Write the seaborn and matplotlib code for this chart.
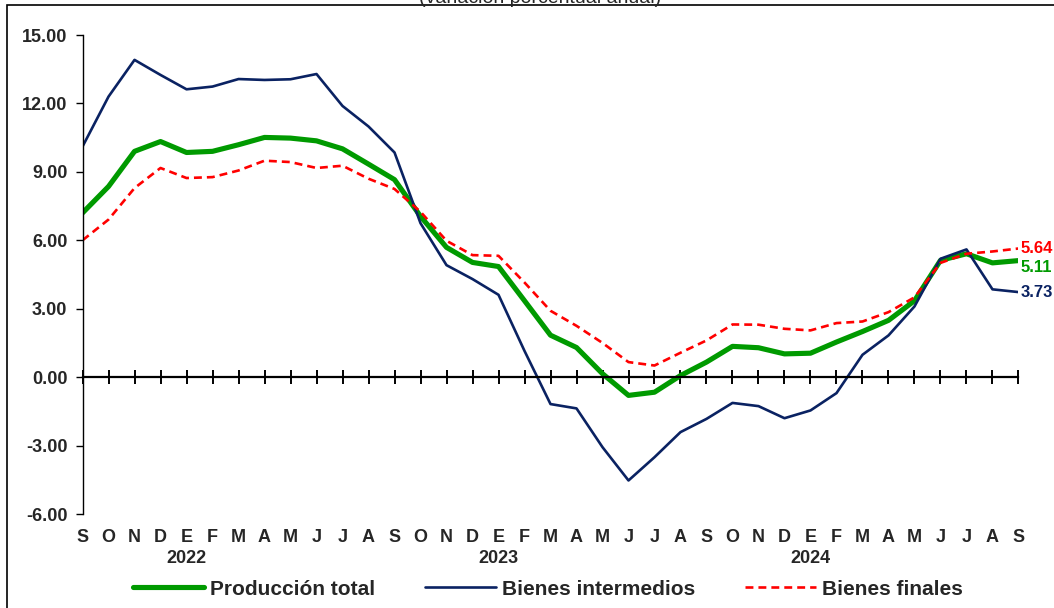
import matplotlib.pyplot as plt
import matplotlib.patches as mpatches
import pandas as pd
import seaborn as sns

# month initials (S-2021 .. S-2024) and year labels under January
months = ["S", "O", "N", "D", "E", "F", "M", "A", "M", "J", "J", "A"] * 3 + ["S"]
year_pos = [4, 16, 28]
year_labels = ["2022", "2023", "2024"]

# annual % change
total = [7.20, 8.36, 9.90, 10.33, 9.85, 9.90, 10.19, 10.51, 10.48, 10.36, 10.01, 9.34,
         8.66, 7.05, 5.69, 5.03, 4.85, 3.35, 1.84, 1.30, 0.15, -0.80, -0.66, 0.07,
         0.66, 1.35, 1.29, 1.02, 1.05, 1.54, 2.00, 2.49, 3.35, 5.12, 5.41, 5.01, 5.11]
intermedios = [10.11, 12.30, 13.91, 13.25, 12.62, 12.74, 13.07, 13.03, 13.06, 13.29, 11.89, 10.99,
               9.85, 6.75, 4.91, 4.30, 3.61, 1.15, -1.18, -1.37, -3.07, -4.53, -3.51, -2.41,
               -1.83, -1.13, -1.27, -1.80, -1.46, -0.70, 0.98, 1.83, 3.10, 5.19, 5.60, 3.85, 3.73]
finales = [6.00, 6.91, 8.29, 9.17, 8.73, 8.77, 9.06, 9.49, 9.43, 9.17, 9.27, 8.70,
           8.25, 7.25, 5.98, 5.35, 5.32, 4.15, 2.91, 2.25, 1.50, 0.66, 0.51, 1.07,
           1.61, 2.31, 2.30, 2.12, 2.05, 2.37, 2.44, 2.85, 3.50, 5.01, 5.41, 5.51, 5.64]

df = pd.DataFrame({"idx": range(len(months)), "total": total,
                   "intermedios": intermedios, "finales": finales})

GREEN = "#009A00"
NAVY = "#0A2262"
RED = "#FF0000"

sns.set_theme(style="white")
plt.rcParams["font.family"] = ["Liberation Sans", "DejaVu Sans"]

fig = plt.figure(figsize=(10.54, 6.08), dpi=100)
ax = fig.add_axes([0.0783, 0.1546, 0.888, 0.7878])

sns.lineplot(data=df, x="idx", y="total", ax=ax, color=GREEN, linewidth=3.7,
             label="Producción total")
sns.lineplot(data=df, x="idx", y="intermedios", ax=ax, color=NAVY, linewidth=1.9,
             label="Bienes intermedios")
sns.lineplot(data=df, x="idx", y="finales", ax=ax, color=RED, linewidth=1.9,
             linestyle=(0, (3, 1.9)), label="Bienes finales")

ax.set_xlim(0, 36)
ax.set_ylim(-6, 15)
ax.set_xlabel("")
ax.set_ylabel("")

# axes look
for s in ["top", "right"]:
    ax.spines[s].set_visible(False)
ax.spines["left"].set_color("black")
ax.spines["left"].set_linewidth(1.0)
ax.spines["bottom"].set_position(("data", 0))
ax.spines["bottom"].set_color("black")
ax.spines["bottom"].set_linewidth(1.6)

ax.set_xticks(df["idx"])
ax.tick_params(axis="x", direction="inout", length=10, width=1.4, color="black",
               labelbottom=False, bottom=True)
ax.set_yticks(range(-6, 16, 3))
ax.set_yticklabels([f"{v:.2f}" for v in range(-6, 16, 3)], fontweight="bold", fontsize=13)
ax.tick_params(axis="y", direction="out", length=5, width=1, color="black", pad=6, left=True)

xt = ax.get_xaxis_transform()
for i, m in enumerate(months):
    ax.text(i, -0.050, m, transform=xt, ha="center", va="center",
            fontweight="bold", fontsize=13)
for p, y in zip(year_pos, year_labels):
    ax.text(p, -0.092, y, transform=xt, ha="center", va="center",
            fontweight="bold", fontsize=13)

# end-of-series labels (kept small enough to stay inside the image)
last = len(months) - 1
for vals, col, dy in [(finales, RED, 0), (total, GREEN, -5), (intermedios, NAVY, 0)]:
    ax.annotate(f"{vals[-1]:.2f}", (last, vals[-1]), xytext=(1.5, dy),
                textcoords="offset points", color=col, fontweight="bold",
                fontsize=12, va="center", ha="left", annotation_clip=False)

handles, labels = ax.get_legend_handles_labels()
ax.get_legend().remove()
fig.legend(handles, labels, loc="center", bbox_to_anchor=(0.52, 0.031), ncol=3,
           frameon=False, prop={"weight": "bold", "size": 15}, handlelength=3.4,
           handletextpad=0.3, columnspacing=2.4)

# chart border (partly outside the image) and cut title
fig.add_artist(mpatches.Rectangle((7 / 1054, -0.2), 1.2, 0.2 + 1 - 5 / 608,
                                  transform=fig.transFigure, fill=False,
                                  edgecolor="black", linewidth=1.2, clip_on=False))
fig.text(0.512, 1 - 3 / 608, "(variación porcentual anual)", ha="center",
         va="baseline", fontsize=14)

fig.savefig("out.png", dpi=100)
